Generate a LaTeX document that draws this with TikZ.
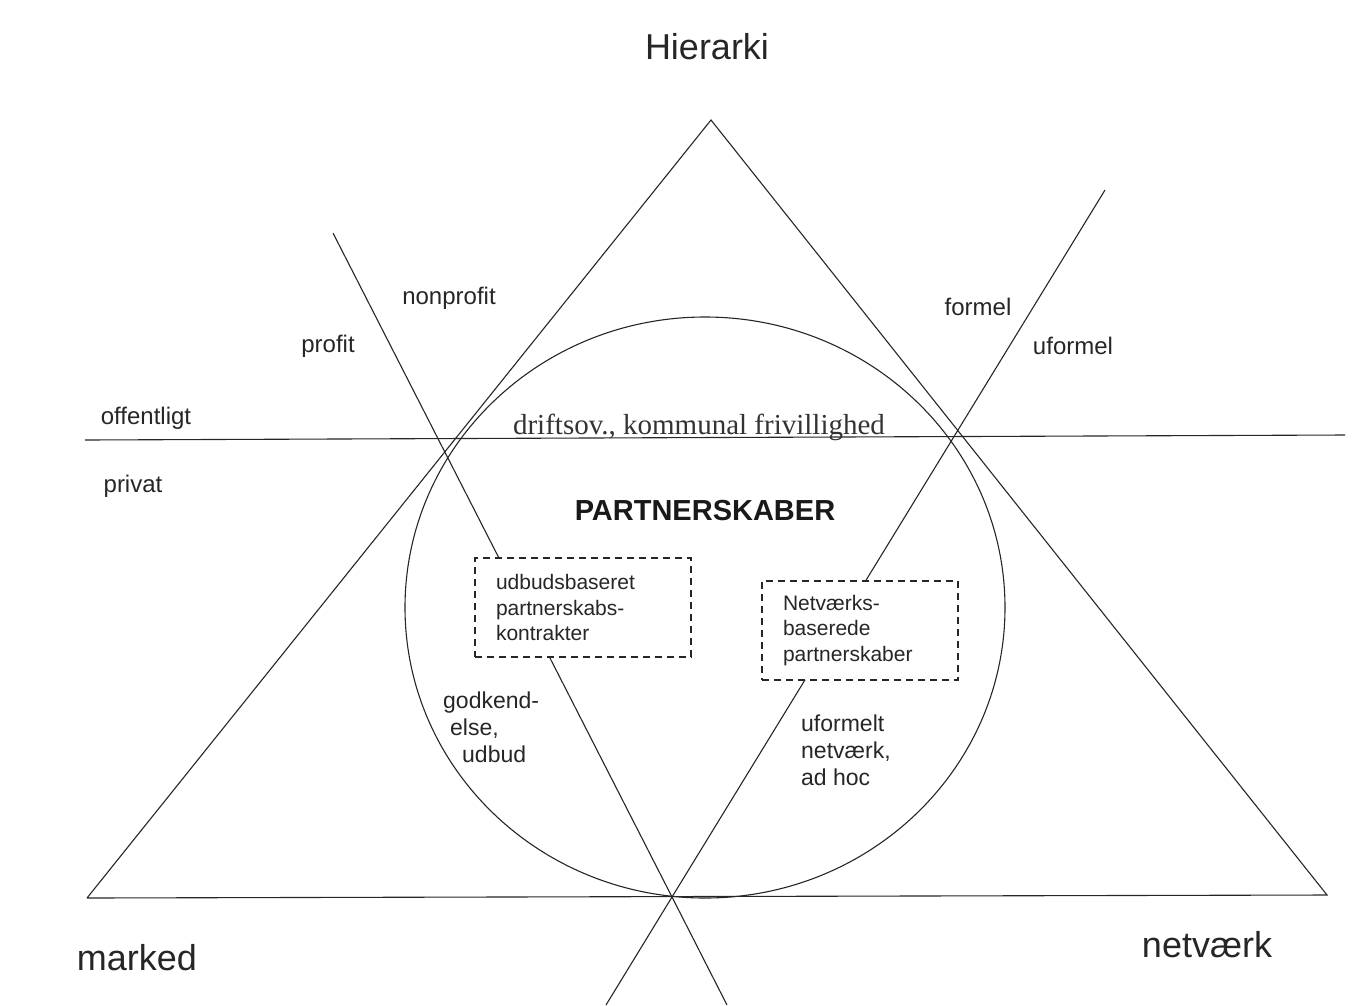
\documentclass[tikz,border=0pt]{standalone}
\usepackage{fontspec}
\setmainfont{Liberation Sans}
\newfontfamily\tnr{Liberation Serif}
\begin{document}
\begin{tikzpicture}[x=1pt,y=-1pt,
  ln/.style={line width=1.1pt,draw=black!85},
  lbl/.style={inner sep=0pt,font=\fontsize{24}{27}\selectfont,text=black!85},
  big/.style={inner sep=0pt,font=\fontsize{36}{40}\selectfont,text=black!85},
  dbox/.style={draw=black!85,dashed,dash pattern=on 7pt off 5pt,line width=1.3pt,fill=white,
    align=left,inner xsep=21pt,inner ysep=0pt,font=\fontsize{21}{25.5}\selectfont,text=black!85}]
\useasboundingbox (0,0) rectangle (1368,1005);
% triangle corners and line ends
\coordinate (apex) at (711,120);
\coordinate (bl) at (87,898);
\coordinate (br) at (1327,895);
\coordinate (hl) at (85,440);
\coordinate (hr) at (1345,435);
\coordinate (mid) at (672,897);
\coordinate (l1top) at (333,233);
\coordinate (l1bot) at (727,1005);
\coordinate (l2top) at (1105,190);
\coordinate (l2bot) at (606,1005);
% circle
\draw[ln] (705,607.5) ellipse [x radius=300, y radius=290.5];
% triangle
\draw[ln] (bl) -- (apex) -- (br) -- (bl);
% horizontal line
\draw[ln] (hl) -- (hr);
% crossing lines
\draw[ln] (l1top) -- (mid) -- (l1bot);
\draw[ln] (l2top) -- (mid) -- (l2bot);
% dashed boxes
\node[dbox,minimum width=216pt,minimum height=99pt,text width=174pt] (b1) at (583,607.5)
  {udbudsbaseret\\partnerskabs-\\kontrakter};
\node[dbox,minimum width=196pt,minimum height=99pt,text width=154pt] (b2) at (860,630.5)
  {Netværks-\\baserede\\partnerskaber};
% labels
\node[big] (hier) at (707,47) {Hierarki};
\node[big] (mark) at (137,958) {marked};
\node[big] (netv) at (1207,945) {netværk};
\node[lbl] (nonp) at (449,298) {nonprofit};
\node[lbl] (prof) at (328,346) {profit};
\node[lbl] (offe) at (146,418) {offentligt};
\node[lbl] (priv) at (133,486) {privat};
\node[lbl] (form) at (978,307) {formel};
\node[lbl] (ufor) at (1073,346) {uformel};
\node[inner sep=0pt,anchor=base,font=\tnr\fontsize{29}{31}\selectfont,text=black!80] (drif) at (699,434) {driftsov., kommunal frivillighed};
\node[inner sep=0pt,font=\bfseries\fontsize{29}{32}\selectfont,text=black!90] (part) at (705,511) {PARTNERSKABER};
\node[lbl,align=left,anchor=north west,font=\fontsize{23}{27}\selectfont] (godk) at (443,692)
  {godkend-\\\hspace*{7pt}else,\\\hspace*{19pt}udbud};
\node[lbl,align=left,anchor=north west,font=\fontsize{23}{27}\selectfont] (ufnet) at (801,715)
  {uformelt\\netværk,\\ad hoc};
\end{tikzpicture}
\end{document}
